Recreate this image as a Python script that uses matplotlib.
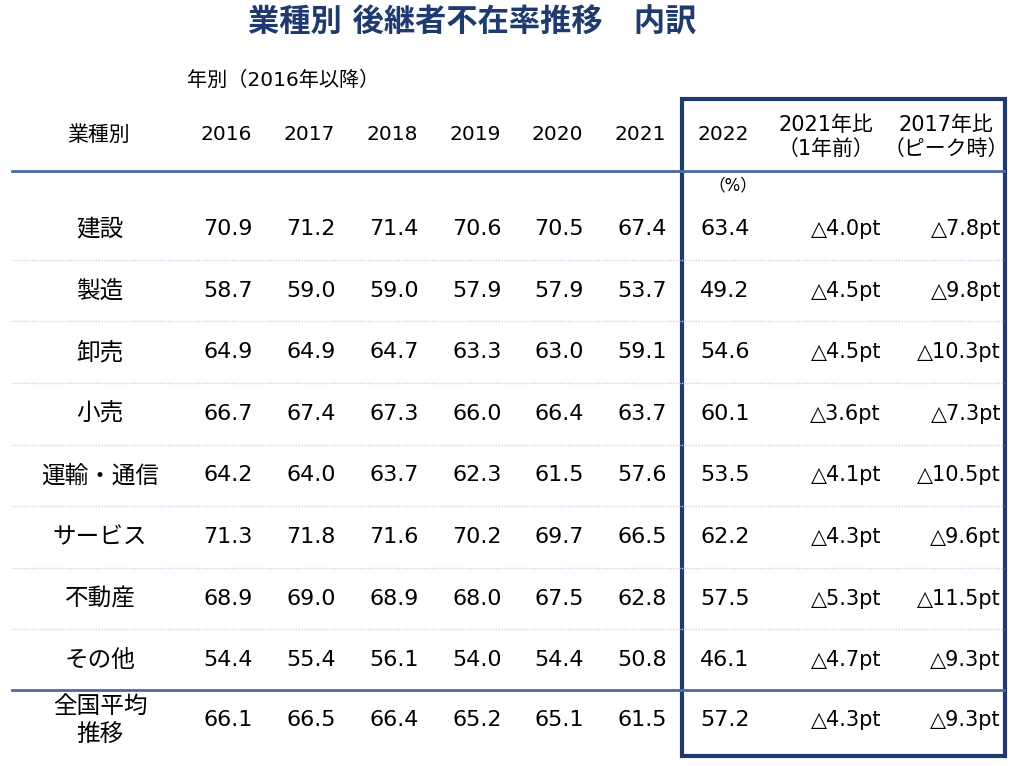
import matplotlib
matplotlib.use('Agg')
import matplotlib.pyplot as plt
from matplotlib.patches import Rectangle

plt.rcParams['font.family'] = ['DejaVu Sans', 'Noto Sans CJK JP']

categories = ['建設', '製造', '卸売', '小売', '運輸・通信', 'サービス', '不動産', 'その他', '全国平均\n推移']
years = ['2016', '2017', '2018', '2019', '2020', '2021', '2022']

v2016 = [70.9, 58.7, 64.9, 66.7, 64.2, 71.3, 68.9, 54.4, 66.1]
v2017 = [71.2, 59.0, 64.9, 67.4, 64.0, 71.8, 69.0, 55.4, 66.5]
v2018 = [71.4, 59.0, 64.7, 67.3, 63.7, 71.6, 68.9, 56.1, 66.4]
v2019 = [70.6, 57.9, 63.3, 66.0, 62.3, 70.2, 68.0, 54.0, 65.2]
v2020 = [70.5, 57.9, 63.0, 66.4, 61.5, 69.7, 67.5, 54.4, 65.1]
v2021 = [67.4, 53.7, 59.1, 63.7, 57.6, 66.5, 62.8, 50.8, 61.5]
v2022 = [63.4, 49.2, 54.6, 60.1, 53.5, 62.2, 57.5, 46.1, 57.2]
diff_1y = [4.0, 4.5, 4.5, 3.6, 4.1, 4.3, 5.3, 4.7, 4.3]
diff_peak = [7.8, 9.8, 10.3, 7.3, 10.5, 9.6, 11.5, 9.3, 9.3]

year_cols = [v2016, v2017, v2018, v2019, v2020, v2021, v2022]

navy = '#1f3a6e'
blue = '#4a6aa0'
dot = '#c3d5ee'

fig = plt.figure(figsize=(10.24, 7.66), dpi=100)
ax = fig.add_axes([0, 0, 1, 1])
ax.set_xlim(0, 1024)
ax.set_ylim(766, 0)
ax.axis('off')

# layout in pixel units
col_x = [226, 309, 392, 475, 557, 640, 723]
row_y = [229 + i * 61.6 for i in range(8)] + [720]

ax.text(472, 22, '業種別 後継者不在率推移　内訳', ha='center', va='center',
        fontsize=22.5, fontweight='bold', color=navy)
ax.text(283, 80, '年別（2016年以降）', ha='center', va='center', fontsize=14.5)

# header row
ax.text(98, 135, '業種別', ha='center', va='center', fontsize=15)
for x, y in zip(col_x, years):
    ax.text(x, 135, y, ha='center', va='center', fontsize=14.5)
ax.text(826, 137, '2021年比\n（1年前）', ha='center', va='center', fontsize=15, linespacing=1.2)
ax.text(946, 137, '2017年比\n（ピーク時）', ha='center', va='center', fontsize=15, linespacing=1.2)
ax.text(733, 185, '（%）', ha='center', va='center', fontsize=12)

# body
for i, cat in enumerate(categories):
    y = row_y[i]
    ax.text(100, y, cat, ha='center', va='center', fontsize=17, linespacing=1.25)
    for x, col in zip(col_x, year_cols):
        ax.text(x + 2, y, f'{col[i]:.1f}', ha='center', va='center', fontsize=16)
    ax.text(881, y, f'△{diff_1y[i]:.1f}pt', ha='right', va='center', fontsize=15)
    ax.text(1001, y, f'△{diff_peak[i]:.1f}pt', ha='right', va='center', fontsize=15)

# separators
for i in range(7):
    ym = (row_y[i] + row_y[i + 1]) / 2
    ax.plot([12, 1004], [ym, ym], color=dot, lw=1.0, ls=(0, (1, 1)))
ax.plot([12, 1004], [171, 171], color=blue, lw=2)
ax.plot([12, 1004], [690, 690], color=blue, lw=2)

# highlight box around 2022 and comparison columns
ax.add_patch(Rectangle((682, 99), 323, 657, fill=False, edgecolor=navy, lw=3))

fig.savefig('out.png', dpi=100)
